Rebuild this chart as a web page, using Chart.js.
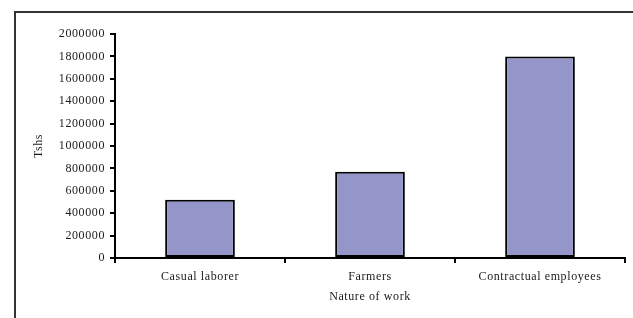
<!DOCTYPE html>
<html>
<head>
<meta charset="utf-8">
<script src="https://cdn.jsdelivr.net/npm/chart.js@4"></script>
<style>
  html, body { margin: 0; padding: 0; background: #fff; }
  #wrap { width: 633px; height: 318px; position: relative; }
</style>
</head>
<body>
<div id="wrap"><canvas id="myChart" width="633" height="318"></canvas></div>
<script>
var xValues = ["Casual laborer", "Farmers", "Contractual employees"];
var yValues = [520000, 770000, 1800000];
var yTicks = [0, 200000, 400000, 600000, 800000, 1000000, 1200000, 1400000, 1600000, 1800000, 2000000];
var barColor = "#9496c9";
var textColor = "#1a1a1a";
var serif = "'Liberation Serif', 'Times New Roman', serif";

// outer frame (left + top edges only) and letter spacing like the original
var framePlugin = {
    id: "frame",
    beforeUpdate: function (chart) {
        chart.ctx.letterSpacing = "0.6px";
    },
    beforeDraw: function (chart) {
        var ctx = chart.ctx;
        ctx.letterSpacing = "0.6px";
        ctx.save();
        ctx.strokeStyle = "#333";
        ctx.lineWidth = 2;
        ctx.beginPath();
        ctx.moveTo(15, 318);
        ctx.lineTo(15, 12);
        ctx.lineTo(633, 12);
        ctx.stroke();
        ctx.restore();
    }
};

new Chart("myChart", {
    type: "bar",
    data: {
        labels: xValues,
        datasets: [{
            data: yValues,
            backgroundColor: barColor,
            borderColor: "#000",
            borderWidth: 2,
            borderSkipped: false,
            barPercentage: 0.41,
            categoryPercentage: 1
        }]
    },
    plugins: [framePlugin],
    options: {
        responsive: false,
        animation: false,
        devicePixelRatio: 1,
        layout: {
            padding: { left: 0, top: 34, right: 8, bottom: 0 }
        },
        plugins: {
            legend: { display: false },
            tooltip: { enabled: false }
        },
        scales: {
            x: {
                grid: {
                    drawOnChartArea: false,
                    drawTicks: true,
                    tickLength: 5,
                    color: "#000",
                    lineWidth: 2
                },
                border: { color: "#000", width: 2 },
                ticks: {
                    color: textColor,
                    padding: 7,
                    autoSkip: false,
                    maxRotation: 0,
                    font: { family: serif, size: 12 }
                },
                title: {
                    display: true,
                    text: "Nature of work",
                    color: textColor,
                    padding: { top: 0, bottom: 14 },
                    font: { family: serif, size: 12 }
                },
                afterFit: function (scale) { scale.height = 60; }
            },
            y: {
                min: 0,
                max: 2000000,
                afterBuildTicks: function (scale) {
                    scale.ticks = yTicks.map(function (v) { return { value: v }; });
                },
                grid: {
                    drawOnChartArea: false,
                    drawTicks: true,
                    tickLength: 5,
                    color: "#000",
                    lineWidth: 2
                },
                border: { color: "#000", width: 2 },
                ticks: {
                    color: textColor,
                    padding: 5,
                    autoSkip: false,
                    font: { family: serif, size: 12 },
                    callback: function (v) { return String(v); }
                },
                title: {
                    display: true,
                    text: "Tshs",
                    color: textColor,
                    padding: { top: 32, bottom: 0 },
                    font: { family: serif, size: 12 }
                },
                afterFit: function (scale) { scale.width = 115; }
            }
        }
    }
});
</script>
</body>
</html>
